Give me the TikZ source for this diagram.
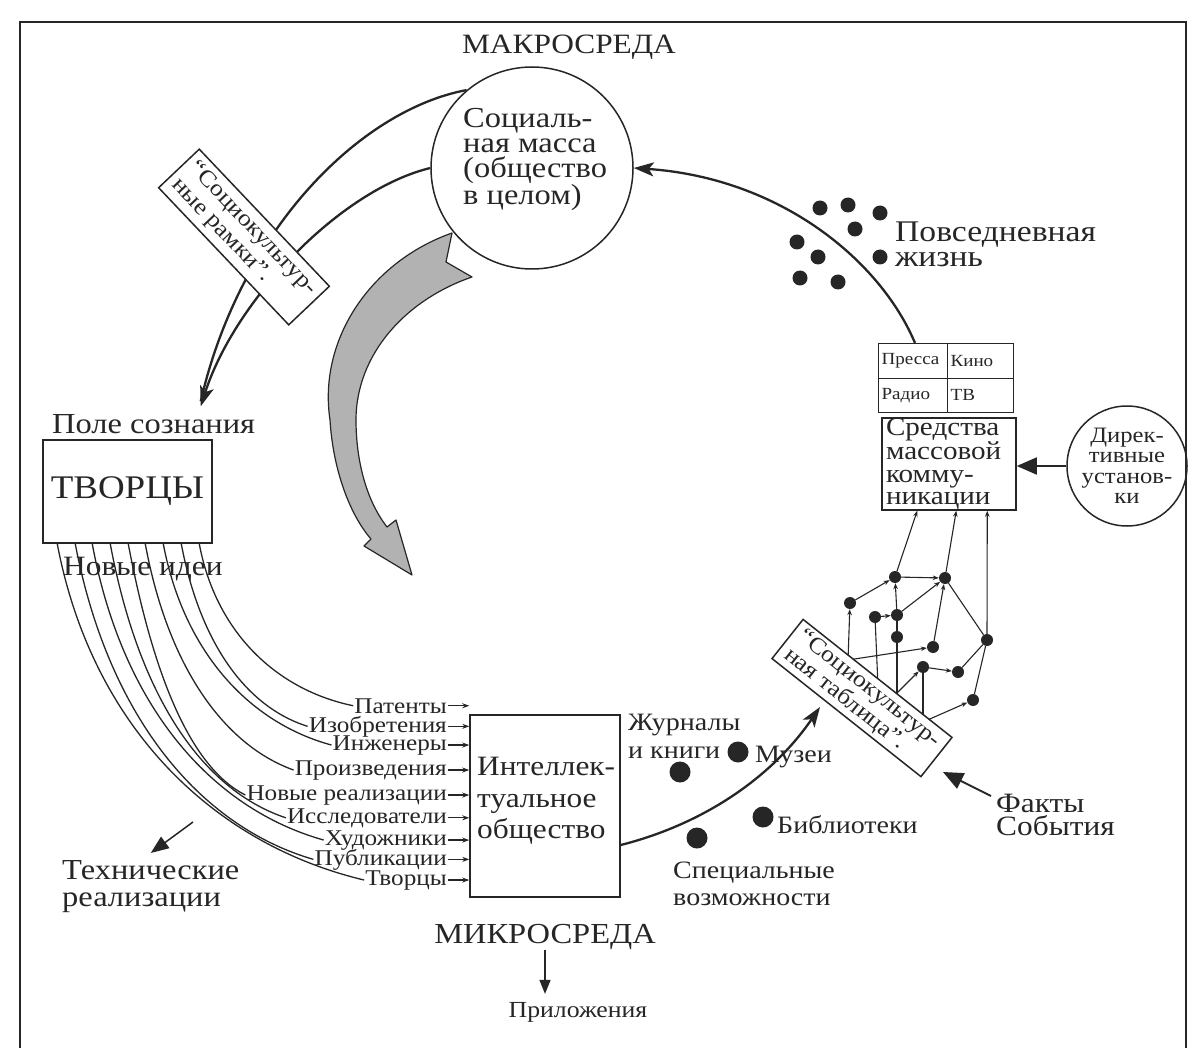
\documentclass[tikz,border=0pt]{standalone}
\usepackage{fontspec}
\setmainfont{Liberation Serif}[FakeStretch=1.12]
\usetikzlibrary{arrows.meta,calc}
\newcommand\fsz[2]{\fontsize{#1}{#2}\selectfont}
\definecolor{ink}{HTML}{262626}
\begin{document}
\begin{tikzpicture}[x=1pt,y=-1pt,
  tx/.style={inner sep=0pt, text=ink},
  lbl/.style={anchor=base east, inner sep=1pt, text=ink, font=\fsz{22.5}{22}},
  mainline/.style={draw=ink, line width=2.3pt},
  thinline/.style={draw=ink, line width=1.3pt},
  latline/.style={draw=ink, line width=1.1pt},
  boxst/.style={draw=ink, line width=1.5pt},
  bigtip/.style={-{Stealth[length=20pt,width=14pt,inset=5pt]}},
  solidtip/.style={-{Triangle[length=20pt,width=17pt]}},
  smalltip/.style={-{Stealth[length=7pt,width=5pt]}},
  lattip/.style={-{Stealth[length=6pt,width=4.5pt]}},
  sdot/.style={circle, fill=ink, inner sep=0pt, minimum size=15pt},
  bdot/.style={circle, fill=ink, inner sep=0pt, minimum size=21pt},
  ldot/.style={circle, fill=ink, inner sep=0pt, minimum size=12pt},
  cell/.style={draw=ink, line width=1.3pt, inner xsep=3pt, minimum height=34.5pt, align=left, font=\fsz{17}{17}, text=ink}
]
\useasboundingbox (0,0) rectangle (1196,1048);
\fill[white] (0,0) rectangle (1196,1048);

% frame
\draw[ink, line width=2.5pt] (20,1048) -- (20,22) -- (1186,22) -- (1186,1048);

% macro environment
\node[tx, font=\fsz{28}{28}] (makro) at (569,47) {МАКРОСРЕДА};
\node[circle, boxst, minimum size=202pt, inner sep=0pt] (soc) at (532,168) {};
\node[tx, anchor=north west, align=left, font=\fsz{29}{25}] (socT) at (463,108) {Социаль-\\ная масса\\(общество\\в целом)};

% creators
\node[boxst, minimum width=169pt, minimum height=103pt, inner sep=0pt, text=ink, font=\fsz{33}{33}] (tv) at (127.5,491.5) {ТВОРЦЫ};
\node[tx, anchor=base west, font=\fsz{29}{29}] (pole) at (52,433) {Поле сознания};
\node[tx, anchor=base west, font=\fsz{28}{28}] (idei) at (63,575) {Новые идеи};

% circle -> creators
\draw[mainline] (soc.130) .. controls (360,110) and (240,230) .. ($(tv.north east)+(-12,-38)$);
\draw[mainline, bigtip] (soc.west) .. controls (340,190) and (235,300) .. ($(tv.north east)+(-12,-33)$);

% media
\node[cell, text width=63pt, anchor=north west] (pA) at (878,343) {Пресса};
\node[cell, text width=60pt, anchor=north west] (pB) at (947,343) {Кино};
\node[cell, text width=63pt, anchor=north west] (pC) at (878,377.5) {Радио};
\node[cell, text width=60pt, anchor=north west] (pD) at (947,377.5) {ТВ};
\node[boxst, minimum width=134pt, minimum height=92pt, text width=126pt, inner xsep=4pt, inner ysep=0pt, align=left, text=ink, font=\fsz{26}{22.5}] (sm) at (949,464) {Средства\\массовой\\комму-\\никации};
\node[circle, boxst, minimum size=120pt, inner sep=0pt, align=center, text=ink, font=\fsz{22}{20.5}] (dir) at (1127,466) {Дирек-\\тивные\\установ-\\ки};
\draw[ink, line width=1.8pt, solidtip] (dir.west) -- (dir.west -| sm.east);

% media -> social mass
\draw[mainline, bigtip] ($(pA.north west)+(37,0)$) .. controls (880,260) and (780,178) .. (soc.east);

% everyday life dots
\foreach \i/\x/\y in {1/820/208, 2/848/205, 3/880/213, 4/855/229, 5/797/242, 6/818/257, 7/880/257, 8/800/278, 9/838/282}
  \node[sdot] (pd\i) at (\x,\y) {};
\node[tx, anchor=north west, align=left, font=\fsz{30}{25}] (povs) at (895,222) {Повседневная\\жизнь};

% lattice
\foreach \n/\x/\y in {n1/895/577, n2/945/578, n3/850/603, n4/875/617, n5/897/615, n6/897/637, n7/933/647, n8/987/640, n9/923/667, n10/958/672, n11/973/700}
  \node[ldot] (\n) at (\x,\y) {};
\coordinate (t1) at (848,660);
\coordinate (t2) at (878,686);
\coordinate (t3) at (897,700);
\coordinate (t4) at (923,722);
\coordinate (t5) at (885,705);
\draw[latline, lattip] (t1) -- (n3);
\draw[latline, lattip] (n3) -- (n1);
\draw[latline, lattip] (n1) -- (n2);
\draw[latline, lattip] (n5) -- (n1);
\draw[latline, lattip] (n5) -- (n2);
\draw[latline, lattip] (n7) -- (n2);
\draw[latline, lattip] (t1) -- (n7);
\draw[latline, lattip] (n9) -- (n10);
\draw[latline, lattip] (t5) -- (n9);
\draw[latline, lattip] (t4) -- (n11);
\draw[latline, lattip] (n4) -- (n5);
\draw[latline] (n6) -- (n5);
\draw[latline] (n2) -- (n8);
\draw[latline] (n10) -- (n8);
\draw[latline] (n11) -- (n8);
\draw[latline] (n4) -- (t2);
\draw[latline] (n6) -- (t3);
\draw[latline] (n9) -- (t4);
\draw[latline, lattip] (n1) -- ($(sm.south west)+(36,0)$);
\draw[latline, lattip] (n2) -- ($(sm.south west)+(75,0)$);
\draw[latline, lattip] (n8) -- ($(sm.south west)+(106,0)$);

% intellectual society
\node[boxst, minimum width=150pt, minimum height=182pt, inner sep=0pt] (ib) at (545,806) {};
\node[tx, anchor=north west, align=left, font=\fsz{28}{31.5}] (ibT) at (477,757) {Интеллек-\\туальное\\общество};

\foreach \n/\y/\t in {l1/713/Патенты, l2/732/Изобретения, l3/750/Инженеры, l4/775/Произведения, l5/800/Новые реализации, l6/823/Исследователи, l7/845/Художники, l8/865/Публикации, l9/885/Творцы}
  \node[lbl] (\n) at (448,\y) {\t};
\foreach \n in {l1,l2,l3,l4,l5,l6,l7,l8,l9}
  \draw[thinline, smalltip] (\n.east) -- (\n.east -| ib.west);
\foreach \n/\o/\ax/\ay/\bx/\by in {l1/157/216/633/277/690, l2/139/200/643/246/707, l3/121/184/653/250/723, l4/103/168/667/224/745, l5/86/154/680/192/768, l6/68/138/693/200/789, l7/50/122/705/210/808, l8/33/108/716/199/826, l9/15/92/727/213/844}
  \draw[thinline] ($(tv.south west)+(\o,0)$) .. controls (\ax,\ay) and (\bx,\by) .. (\n.west);

% shaded arrow
\draw[ink, line width=1.2pt, fill=black!30, line join=round]
  (452,233) .. controls (370,262) and (318,340) .. (330,420)
  .. controls (333,470) and (350,515) .. (371,539)
  -- (364,546) -- (412,575) -- (396,520) -- (387,527)
  .. controls (366,500) and (356,460) .. (356,420)
  .. controls (356,355) and (405,300) .. (472,277)
  -- (446,262) -- cycle;

% technical realisations
\node[tx, anchor=north west, align=left, font=\fsz{29}{27}] (tr) at (62,860) {Технические\\реализации};
\coordinate (techStart) at (193,822);
\draw[ink, line width=1.5pt, -{Triangle[length=18pt,width=14pt]}] (techStart) -- ($(tr.north)+(0,-7)$);

% library dots
\node[tx, anchor=north west, align=left, font=\fsz{25}{28}] (jur) at (628,714) {Журналы\\и книги};
\node[bdot] (d1) at (680,772) {};
\node[bdot] (d2) at (738,752) {};
\node[bdot] (d3) at (763,817) {};
\node[bdot] (d4) at (697,838) {};
\node[tx, anchor=base west, font=\fsz{25}{25}] (muz) at (755,762) {Музеи};
\node[tx, anchor=base west, font=\fsz{25}{25}] (bib) at (777,833) {Библиотеки};
\node[tx, anchor=north west, align=left, font=\fsz{25}{27}] (spec) at (673,862) {Специальные\\возможности};

% socio-cultural table
\coordinate (sctTip) at (820,707);
\draw[mainline, bigtip] ($(ib.east)+(0,39)$) .. controls (700,825) and (770,780) .. (sctTip);
\node[draw=ink, line width=1.5pt, fill=white, rotate=-38.4, minimum width=190pt, minimum height=50pt, inner xsep=4pt, align=left, text=ink, font=\fsz{23}{23}] (sct) at (862,698) {“Социокультур-\\ная таблица”.};

\node[tx, anchor=north west, align=left, font=\fsz{28}{23}] (fk) at (996,794) {Факты\\События};
\coordinate (fkTip) at (943,772);
\draw[ink, line width=1.8pt, solidtip] ($(fk.north west)+(-5,2)$) -- (fkTip);

% socio-cultural frames box
\node[draw=ink, line width=1.5pt, fill=white, rotate=-46.5, minimum width=189pt, minimum height=56pt, inner xsep=4pt, align=left, text=ink, font=\fsz{23}{24}] (scr) at (244,237) {“Социокультур-\\ные рамки”.};

% micro environment
\node[tx, font=\fsz{29}{29}] (mikro) at (545,937) {МИКРОСРЕДА};
\node[tx, font=\fsz{23}{23}] (pril) at (578,1012) {Приложения};
\draw[ink, line width=1.5pt, -{Triangle[length=14pt,width=11pt]}] (mikro.south) -- ++(0,44);
\end{tikzpicture}
\end{document}
